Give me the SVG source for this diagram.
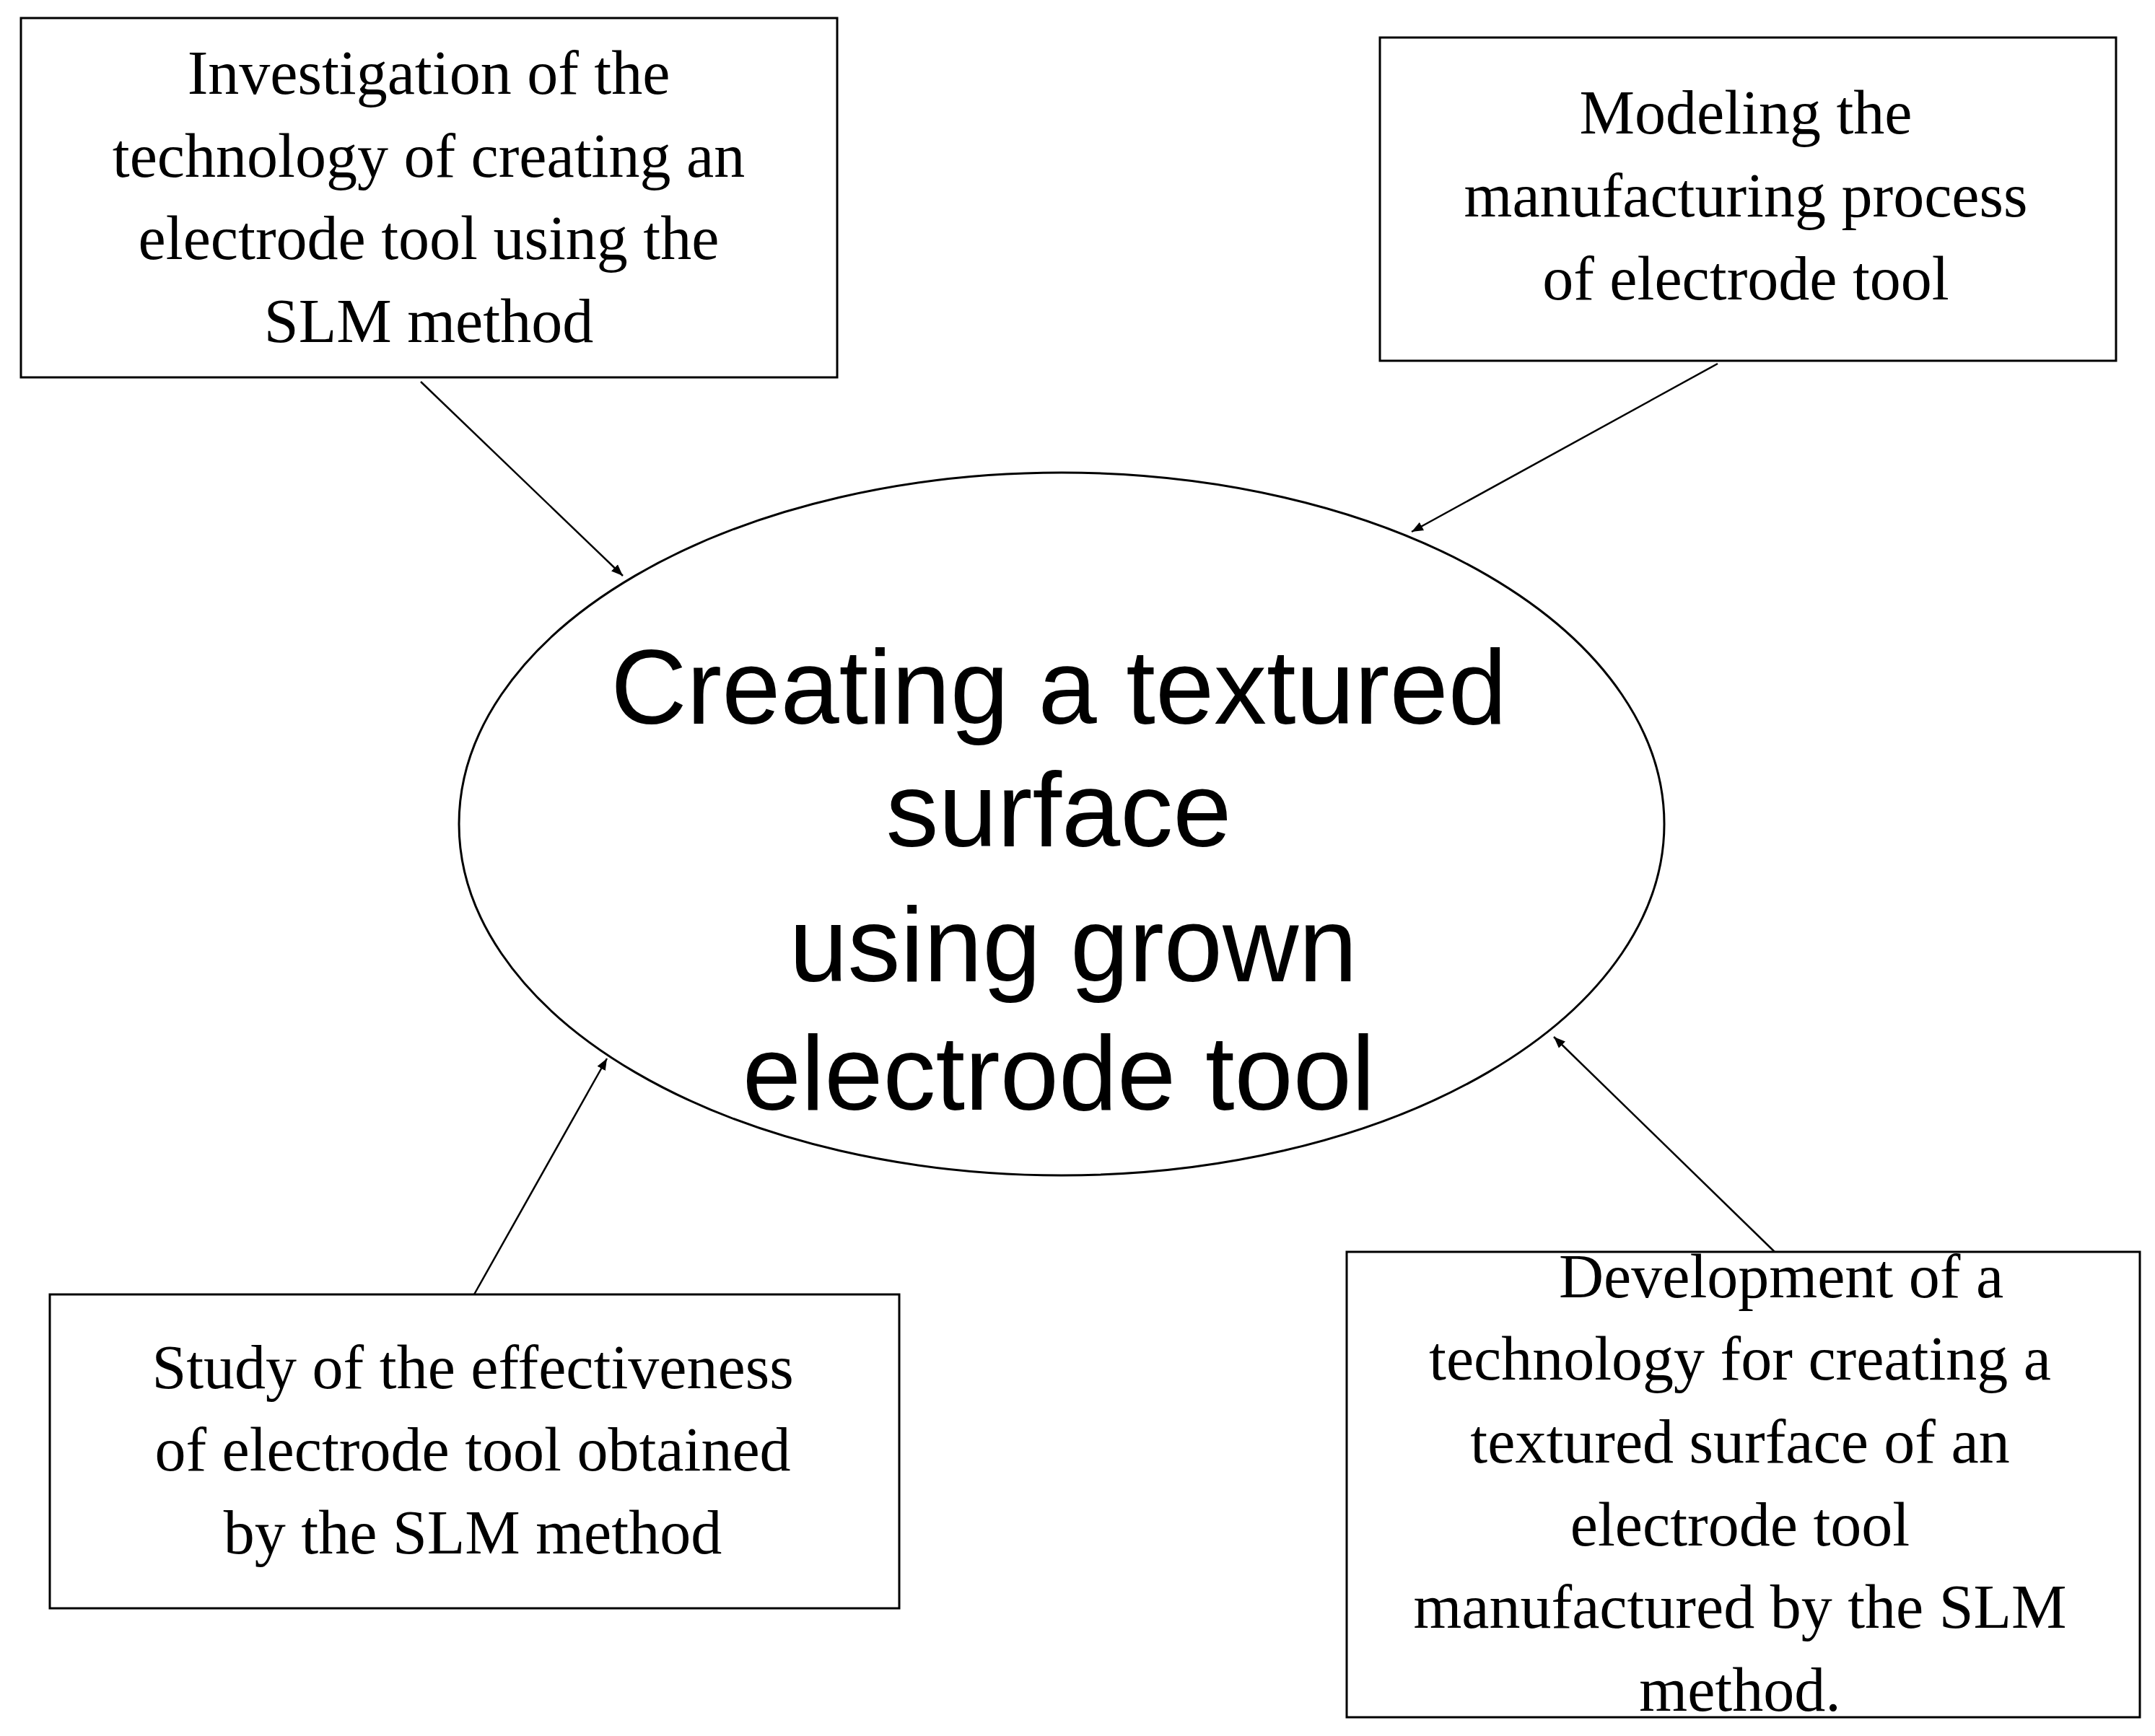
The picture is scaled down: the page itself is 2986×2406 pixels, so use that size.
<svg xmlns="http://www.w3.org/2000/svg" width="2986" height="2406" viewBox="0 0 2986 2406">
<style>
.b{fill:#fff;stroke:#000;stroke-width:3}
.t{font-family:"Liberation Serif",serif;font-size:86px;text-anchor:middle;fill:#000}
.c{font-family:"Liberation Sans",sans-serif;font-size:146px;text-anchor:middle;fill:#000}
.l{stroke:#000;stroke-width:2.5;fill:none;marker-end:url(#a)}
</style>
<defs><marker id="a" viewBox="0 0 10 10" refX="10" refY="5" markerWidth="16" markerHeight="16" markerUnits="userSpaceOnUse" orient="auto"><path d="M0,1 L10,5 L0,9 z" fill="#000"/></marker>
<marker id="a2" viewBox="0 0 10 10" refX="10" refY="5" markerWidth="16" markerHeight="16" orient="auto"><path d="M0,1 L10,5 L0,9 z"/></marker></defs>
<rect width="2986" height="2406" fill="#fff"/>
<g id="center"><ellipse class="b" cx="1471" cy="1142" rx="835" ry="487"/>
<text class="c" x="1467" y="1003">Creating a textured</text>
<text class="c" x="1467" y="1173">surface</text>
<text class="c" x="1487" y="1360">using grown</text>
<text class="c" x="1467" y="1538">electrode tool</text></g>
<g id="n1"><rect class="b" x="29" y="25" width="1131" height="498"/>
<text class="t" x="594" y="130">Investigation of the</text>
<text class="t" x="594" y="245">technology of creating an</text>
<text class="t" x="594" y="359">electrode  tool using the</text>
<text class="t" x="594" y="474">SLM method</text></g>
<g id="n2"><rect class="b" x="1912" y="52" width="1020" height="448"/>
<text class="t" x="2419" y="185">Modeling the</text>
<text class="t" x="2419" y="300">manufacturing process</text>
<text class="t" x="2419" y="415">of electrode tool</text></g>
<g id="n3"><rect class="b" x="69" y="1794" width="1177" height="435"/>
<text class="t" x="655" y="1924">Study of the effectiveness</text>
<text class="t" x="655" y="2038">of electrode tool obtained</text>
<text class="t" x="655" y="2153">by the SLM method</text></g>
<g id="n4"><rect class="b" x="1866" y="1735" width="1099" height="645"/>
<text class="t" x="2468" y="1798">Development of a</text>
<text class="t" x="2411" y="1912">technology for creating a</text>
<text class="t" x="2411" y="2027">textured surface of an</text>
<text class="t" x="2411" y="2142">electrode tool</text>
<text class="t" x="2411" y="2256">manufactured by the SLM</text>
<text class="t" x="2411" y="2371">method.</text></g>
<g id="connectors">
<line class="l" x1="583" y1="529" x2="863" y2="798"/>
<line class="l" x1="2380" y1="504" x2="1956" y2="737"/>
<line class="l" x1="657" y1="1794" x2="841" y2="1467"/>
<line class="l" x1="2459" y1="1735" x2="2153" y2="1437"/>
</g>
</svg>
